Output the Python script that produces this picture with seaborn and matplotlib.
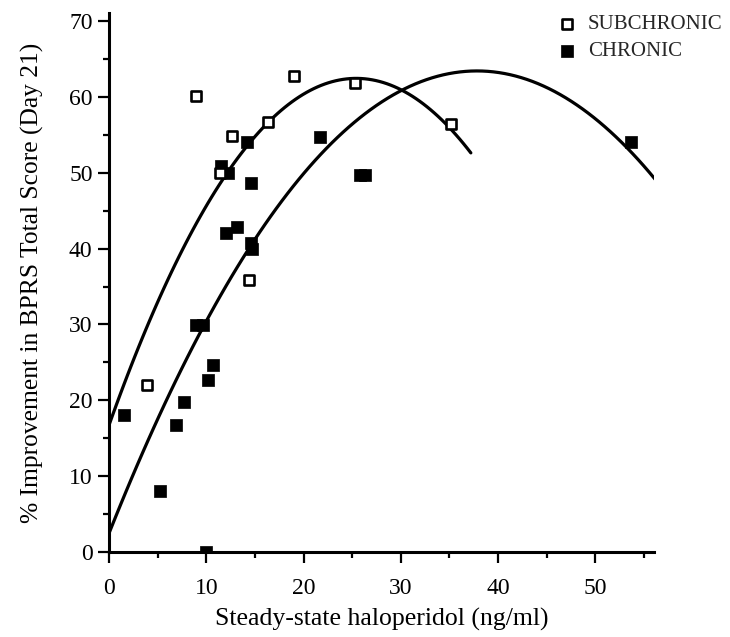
import numpy as np
import pandas as pd
import matplotlib
matplotlib.use("Agg")
import matplotlib.pyplot as plt
import seaborn as sns
from matplotlib.ticker import MultipleLocator

# Data
sub_x = [3.85, 8.9, 11.4, 12.65, 14.4, 16.3, 19.0, 25.3, 35.2]
sub_y = [22.0, 60.1, 49.9, 54.8, 35.9, 56.7, 62.8, 61.8, 56.4]

chr_x = [1.5, 5.2, 6.9, 7.7, 8.9, 9.6, 9.95, 10.2, 10.7, 11.5, 12.0, 12.2, 13.1,
         14.2, 14.6, 14.6, 14.7, 21.7, 25.8, 26.3, 53.7]
chr_y = [18.1, 8.0, 16.7, 19.8, 29.9, 29.9, 0.0, 22.7, 24.7, 50.9, 42.0, 49.9, 42.8,
         54.0, 48.7, 40.8, 39.9, 54.7, 49.7, 49.7, 54.1]

# x-extent over which each fitted quadratic curve is drawn
sub_curve_end = 37.2
chr_curve_end = 56.7

x_ticks = [0, 10, 20, 30, 40, 50]
y_ticks = [0, 10, 20, 30, 40, 50, 60, 70]

sns.set_theme(style="white")
plt.rcParams['font.family'] = ['Liberation Serif', 'DejaVu Serif']

fig = plt.figure(figsize=(7.3, 6.37), dpi=100)
ax = fig.add_axes([0.1497, 0.1334, 0.7456, 0.8455])

df_sub = pd.DataFrame({"x": sub_x, "y": sub_y})
df_chr = pd.DataFrame({"x": chr_x, "y": chr_y})

# second-order regression curves (drawn across 0..end using the axis range)
ax.set_xlim(0, sub_curve_end)
sns.regplot(data=df_sub, x="x", y="y", order=2, ci=None, scatter=False, ax=ax,
            line_kws=dict(color="black", lw=2.3), truncate=False)
ax.set_xlim(0, chr_curve_end)
sns.regplot(data=df_chr, x="x", y="y", order=2, ci=None, scatter=False, ax=ax,
            line_kws=dict(color="black", lw=2.3), truncate=False)

sns.scatterplot(data=df_chr, x="x", y="y", ax=ax, marker="s", s=70,
                color="black", edgecolor="black", linewidth=0.5, label="CHRONIC", zorder=5)
sns.scatterplot(data=df_sub, x="x", y="y", ax=ax, marker="s", s=48,
                facecolor="white", edgecolor="black", linewidth=1.9, label="SUBCHRONIC", zorder=6)

ax.set_xlim(0, 56)
ax.set_ylim(0, 71)
ax.set_xticks(x_ticks)
ax.set_yticks(y_ticks)
ax.xaxis.set_minor_locator(MultipleLocator(5))
ax.yaxis.set_minor_locator(MultipleLocator(5))
for s in ["top", "right"]:
    ax.spines[s].set_visible(False)
for s in ["left", "bottom"]:
    ax.spines[s].set_linewidth(2.2)
    ax.spines[s].set_color("black")
ax.tick_params(which="major", direction="out", length=8, width=1.6, colors="black",
               labelsize=17, bottom=True, left=True)
ax.tick_params(which="minor", direction="out", length=4, width=1.6, colors="black",
               bottom=True, left=True)
ax.tick_params(axis="x", which="major", pad=11)
ax.tick_params(axis="y", which="major", pad=4)

ax.set_xlabel("Steady-state haloperidol (ng/ml)", fontsize=18.5, color="black", labelpad=6)
ax.set_ylabel("% Improvement in BPRS Total Score (Day 21)", fontsize=18.4, color="black",
              labelpad=18)

handles, labels = ax.get_legend_handles_labels()
order = [labels.index("SUBCHRONIC"), labels.index("CHRONIC")]
ax.legend([handles[i] for i in order], [labels[i] for i in order],
          loc="upper left", bbox_to_anchor=(538 / 730, 1 + 4 / 637),
          bbox_transform=fig.transFigure, frameon=False, fontsize=15,
          handletextpad=0.5, labelspacing=0.35, handlelength=1.0)

fig.savefig("out.png", dpi=100)
